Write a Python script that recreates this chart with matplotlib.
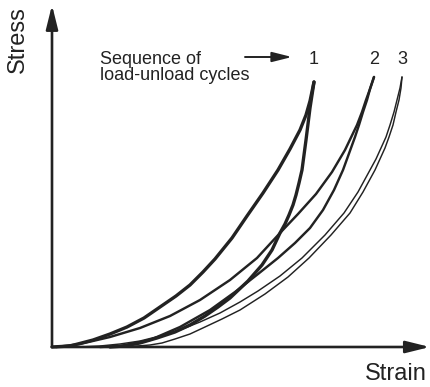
import matplotlib
matplotlib.use("Agg")
import matplotlib.pyplot as plt

plt.rcParams['font.family'] = ['Liberation Sans', 'DejaVu Sans']

# Cycle 1 (thick)
load1_strain = [0, 18, 41, 58, 75, 92, 108, 124, 138, 151, 163, 180, 195, 211, 226, 238, 248, 254, 258, 262]
load1_stress = [0, 1, 7, 13, 20, 29, 40, 51, 62, 75, 88, 109, 131, 154, 177, 198, 217, 232, 246, 265]
unload1_strain = [262, 260, 258, 256, 254, 252, 250, 247, 244, 241, 237, 233, 228, 220, 210, 196, 178, 166, 153, 138, 123, 105, 88, 72, 58]
unload1_stress = [265, 252, 239, 223, 207, 192, 177, 164, 152, 142, 132, 123, 114, 97, 82, 66, 49, 40, 31, 22, 15, 9, 4, 1, 0]

# Cycle 2 (medium)
load2_strain = [4, 28, 58, 88, 118, 148, 178, 205, 228, 246, 264, 280, 293, 305, 310, 314, 318, 322]
load2_stress = [0, 3, 10, 19, 31, 47, 67, 89, 114, 133, 153, 175, 197, 222, 235, 247, 258, 270]
unload2_strain = [322, 318, 315, 311, 307, 303, 299, 295, 291, 282, 271, 258, 243, 226, 206, 183, 158, 128, 98, 68, 48]
unload2_stress = [270, 258, 247, 235, 222, 210, 199, 188, 177, 157, 137, 119, 104, 89, 73, 55, 37, 20, 7, 1, 0]

# Cycle 3 (thin)
load3_strain = [350, 348, 345, 342, 338, 334, 329, 324, 318, 306, 292, 273, 250, 228, 206, 188, 168, 148, 128, 108, 88, 68, 48, 28]
load3_stress = [270, 259, 247, 235, 222, 210, 199, 188, 177, 155, 134, 112, 89, 71, 56, 45, 34, 25, 17, 11, 6, 3, 1, 0]
unload3_strain = [350, 349, 347, 344, 341, 337, 333, 328, 323, 311, 298, 279, 257, 236, 213, 188, 170, 153, 138, 123, 110, 98, 85, 73]
unload3_stress = [270, 259, 247, 235, 222, 210, 199, 188, 177, 155, 134, 112, 89, 70, 53, 37, 28, 20, 13, 8, 4, 2, 1, 0]

cycle_labels = ["1", "2", "3"]

W, H = 430, 387
fig = plt.figure(figsize=(W / 100, H / 100), dpi=100)
ax = fig.add_axes([52 / W, 40 / H, 376 / W, 342 / H])
ax.set_xlim(0, 376)
ax.set_ylim(0, 342)
ax.axis('off')

ink = '#222222'
curves = [
    (load1_strain, load1_stress, 2.4),
    (unload1_strain, unload1_stress, 2.4),
    (load2_strain, load2_stress, 1.75),
    (unload2_strain, unload2_stress, 1.75),
    (load3_strain, load3_stress, 1.05),
    (unload3_strain, unload3_stress, 1.05),
]
for xs, ys, lw in curves:
    ax.plot(xs, ys, color=ink, lw=lw, solid_capstyle='round',
            solid_joinstyle='round', clip_on=False)

# axes arrows
arrow_kw = dict(arrowstyle='-|>,head_length=1.45,head_width=0.36',
                color=ink, lw=1.9, shrinkA=0, shrinkB=0, mutation_scale=10)
ax.annotate('', xy=(0, 1), xytext=(0, 0), xycoords='axes fraction',
            textcoords='axes fraction', arrowprops=arrow_kw)
ax.annotate('', xy=(1.005, 0), xytext=(0, 0), xycoords='axes fraction',
            textcoords='axes fraction', arrowprops=arrow_kw)

# peak labels
peaks_x = [load1_strain[-1], load2_strain[-1], load3_strain[0]]
for lab, px in zip(cycle_labels, peaks_x):
    ax.text(px, 287, lab, ha='center', va='center', fontsize=13, color=ink)

# annotation text and arrow
fig.text(100 / W, 1 - 60 / H, "Sequence of", ha='left', va='center',
         fontsize=13, color=ink)
fig.text(100 / W, 1 - 76 / H, "load-unload cycles", ha='left', va='center',
         fontsize=13, color=ink)
ax.annotate('', xy=(292 - 52, 347 - 57), xytext=(245 - 52, 347 - 57),
            arrowprops=dict(arrowstyle='-|>,head_length=1.2,head_width=0.3',
                            color=ink, lw=1.4, shrinkA=0, shrinkB=0,
                            mutation_scale=10), annotation_clip=False)

# axis labels
fig.text(18 / W, 1 - 40 / H, "Stress", rotation=90, ha='center', va='center',
         fontsize=17, color=ink)
fig.text(427 / W, 1 - 374 / H, "Strain", ha='right', va='center',
         fontsize=17, color=ink)

fig.savefig("out.png", dpi=100)
